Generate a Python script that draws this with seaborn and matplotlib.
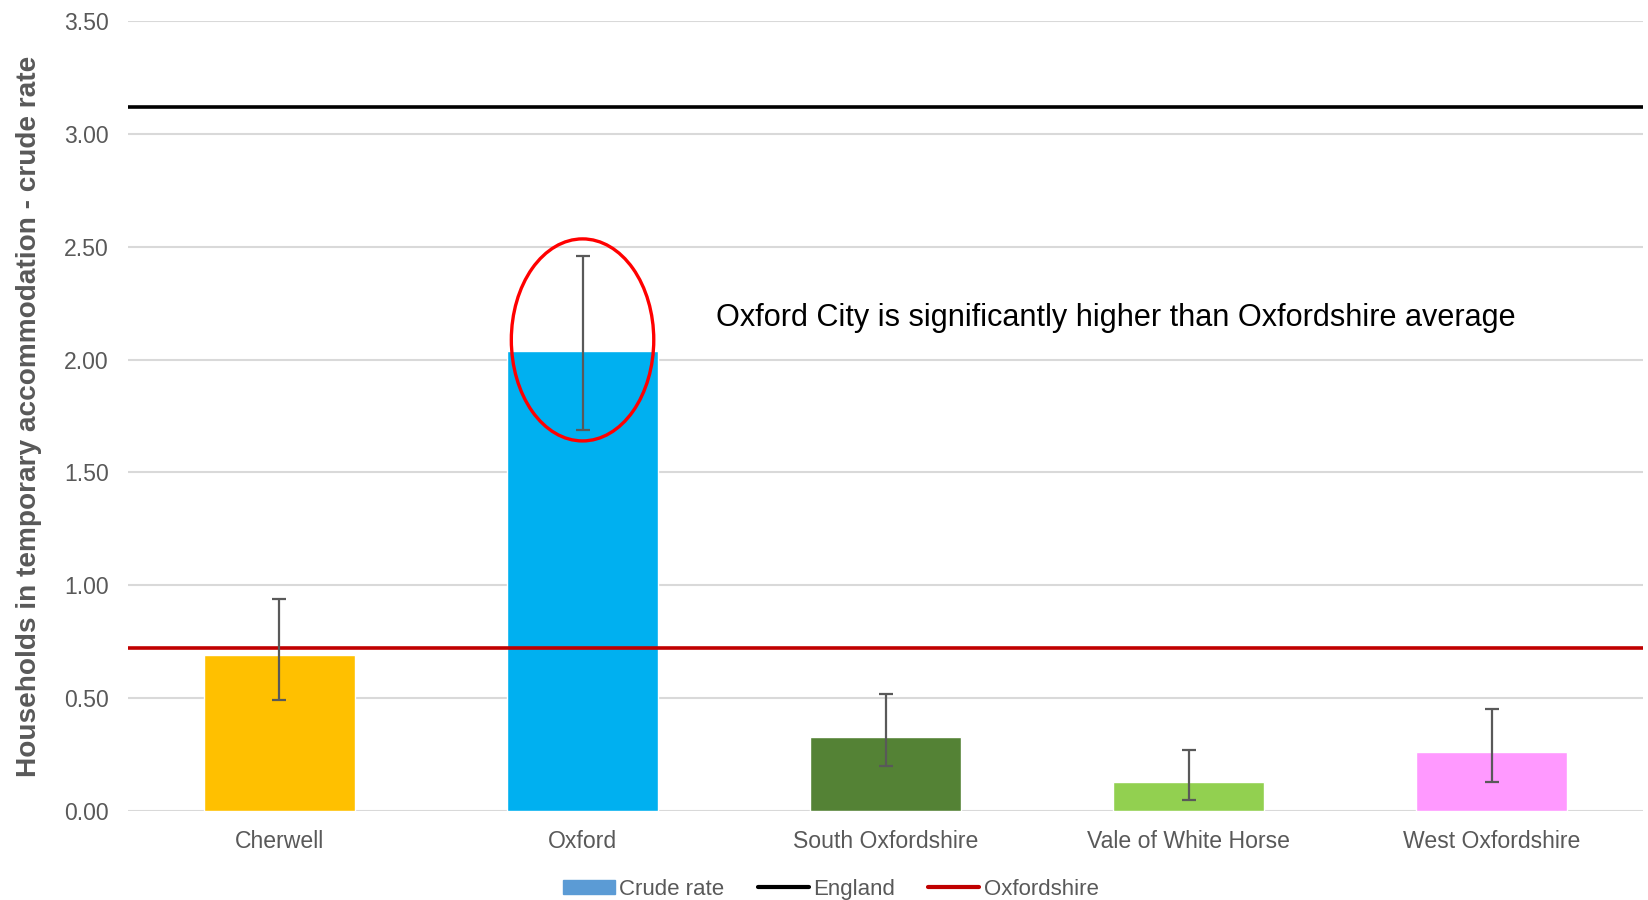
import matplotlib
matplotlib.use("Agg")
import matplotlib.pyplot as plt
import numpy as np
import pandas as pd
import seaborn as sns
from matplotlib.lines import Line2D
from matplotlib.patches import Ellipse, Patch

areas = ["Cherwell", "Oxford", "South Oxfordshire", "Vale of White Horse", "West Oxfordshire"]
crude_rate = [0.69, 2.04, 0.33, 0.13, 0.26]
ci_lower = [0.49, 1.69, 0.20, 0.05, 0.13]
ci_upper = [0.94, 2.46, 0.52, 0.27, 0.45]
bar_colors = ["#FFC000", "#00B0F0", "#548235", "#92D050", "#FF99FF"]
england_rate = 3.12
oxfordshire_rate = 0.72
y_ticks = [0.0, 0.5, 1.0, 1.5, 2.0, 2.5, 3.0, 3.5]

sns.set_style("white")
plt.rcParams["font.family"] = ["Liberation Sans", "DejaVu Sans"]
grey = "#595959"

df = pd.DataFrame({"area": areas, "rate": crude_rate})

fig = plt.figure(figsize=(16.49, 9), dpi=100)
ax = fig.add_axes([0.0776, 0.0989, 0.9189, 0.8778])

ax.set_axisbelow(True)
for t in y_ticks:
    ax.axhline(t, color="#D9D9D9", lw=1.5, zorder=0)

sns.barplot(data=df, x="area", y="rate", hue="area", palette=bar_colors,
            width=0.5, legend=False, ax=ax, saturation=1, zorder=2)

rates = np.array(crude_rate)
yerr = np.vstack([rates - np.array(ci_lower), np.array(ci_upper) - rates])
ax.errorbar(np.arange(len(areas)), rates, yerr=yerr, fmt="none", ecolor=grey,
            elinewidth=1.6, capsize=5, capthick=1.6, zorder=4)

ax.axhline(england_rate, color="black", lw=2.6, zorder=3)
ax.axhline(oxfordshire_rate, color="#C00000", lw=2.6, zorder=3)

# annotation ring round the Oxford bar
ax.add_patch(Ellipse((1, 2.087), 0.47, 0.895, fill=False, edgecolor="#FF0000",
                     lw=2.4, zorder=5))
ax.text(1.44, 2.185, "Oxford City is significantly higher than Oxfordshire average",
        fontsize=22.1, color="black", va="center", ha="left")

ax.set_xlim(-0.5, 4.5)
ax.set_ylim(0, 3.5)
ax.set_yticks(y_ticks)
ax.set_yticklabels([f"{t:.2f}" for t in y_ticks])
ax.tick_params(axis="both", length=0, labelsize=16.6, colors=grey)
ax.tick_params(axis="y", pad=14)
ax.tick_params(axis="x", pad=14)
ax.set_xlabel("")
ax.set_ylabel("Households in temporary accommodation - crude rate",
              fontsize=20.2, fontweight="bold", color=grey)
ax.yaxis.set_label_coords(-0.057, 0.5)
for s in ax.spines.values():
    s.set_visible(False)

handles = [Patch(color="#5B9BD5"),
           Line2D([], [], color="black", lw=3),
           Line2D([], [], color="#C00000", lw=3)]
fig.legend(handles, ["Crude rate", "England", "Oxfordshire"], loc="center",
           bbox_to_anchor=(0.504, 0.012), ncol=3, frameon=False, fontsize=16,
           labelcolor=grey, handlelength=2.3, handletextpad=0.2, columnspacing=1.5,
           handleheight=0.6)

fig.savefig("out.png", dpi=100)
